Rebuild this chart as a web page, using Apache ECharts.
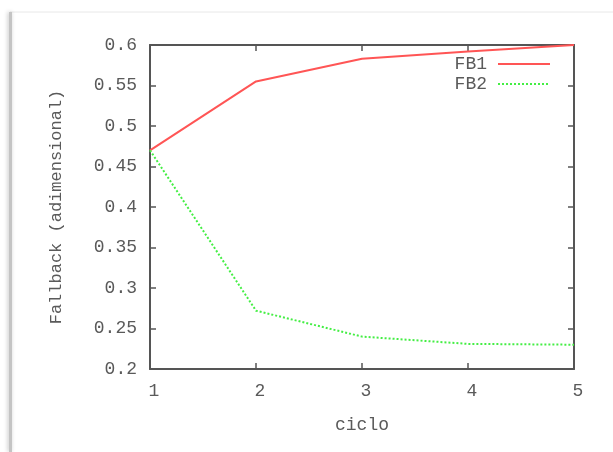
<!DOCTYPE html>
<html>
<head>
<meta charset="utf-8">
<script src="https://cdn.jsdelivr.net/npm/echarts@6/dist/echarts.min.js"></script>
<style>html,body{margin:0;padding:0;background:#fff;}#c{width:613px;height:452px;}</style>
</head>
<body>
<div id="c"></div>
<script>
const ciclo = [1, 2, 3, 4, 5];
const fb1 = [0.47, 0.555, 0.583, 0.592, 0.600];
const fb2 = [0.47, 0.272, 0.240, 0.231, 0.230];
const yTickLabels = ['0.2', '0.25', '0.3', '0.35', '0.4', '0.45', '0.5', '0.55', '0.6'];
const xTickLabels = ['1', '2', '3', '4', '5'];

const FONT = 'Liberation Mono';
const TXT = '#5a5a5a';
const AX = '#555';

const chart = echarts.init(document.getElementById('c'), null, {renderer: 'canvas'});
const grid = {left: 150, top: 45, right: 39, bottom: 83};
const yFmt = v => yTickLabels[Math.round((v - 0.2) / 0.05)] || '';
const xFmt = v => xTickLabels[Math.round(v - 1)] || '';

chart.setOption({
  backgroundColor: '#fff',
  animation: false,
  graphic: [
    {type: 'rect', shape: {x: 10, y: 12, width: 700, height: 500}, style: {fill: '#fff', stroke: '#e8e8e8', lineWidth: 1}, z: -10},
    {type: 'line', shape: {x1: 10.5, y1: 12, x2: 10.5, y2: 452}, style: {stroke: '#c4c4c4', lineWidth: 3, shadowBlur: 4, shadowColor: 'rgba(0,0,0,0.25)', shadowOffsetX: -1}, z: -9}
  ],
  grid: grid,
  legend: {
    orient: 'vertical',
    right: 57,
    top: 50,
    align: 'right',
    itemWidth: 52,
    itemHeight: 14,
    itemGap: 2,
    itemStyle: {opacity: 0},
    textStyle: {fontFamily: FONT, fontSize: 18, color: TXT, padding: [0, 6, 0, 0]},
    data: ['FB1', 'FB2']
  },
  xAxis: [{
    type: 'value', min: 1, max: 5, interval: 1,
    name: 'ciclo', nameLocation: 'middle', nameGap: 47,
    nameTextStyle: {fontFamily: FONT, fontSize: 18, color: TXT},
    axisLine: {show: true, lineStyle: {color: AX, width: 2}},
    axisTick: {show: true, inside: true, length: 6, lineStyle: {color: AX, width: 1.5}},
    axisLabel: {fontFamily: FONT, fontSize: 18, color: TXT, margin: 13, formatter: xFmt, padding: [0, 0, 0, 8]},
    splitLine: {show: false}
  }, {
    type: 'value', min: 1, max: 5, interval: 1, position: 'top',
    axisLine: {show: true, lineStyle: {color: AX, width: 2}},
    axisTick: {show: true, inside: true, length: 6, lineStyle: {color: AX, width: 1.5}},
    axisLabel: {show: false}, splitLine: {show: false}
  }],
  yAxis: [{
    type: 'value', min: 0.2, max: 0.6, interval: 0.05,
    name: 'Fallback (adimensional)', nameLocation: 'middle', nameGap: 85, nameRotate: 90,
    nameTextStyle: {fontFamily: FONT, fontSize: 17, color: TXT},
    axisLine: {show: true, lineStyle: {color: AX, width: 2}},
    axisTick: {show: true, inside: true, length: 6, lineStyle: {color: AX, width: 1.5}},
    axisLabel: {fontFamily: FONT, fontSize: 18, color: TXT, margin: 13, formatter: yFmt},
    splitLine: {show: false}
  }, {
    type: 'value', min: 0.2, max: 0.6, interval: 0.05, position: 'right',
    axisLine: {show: true, lineStyle: {color: AX, width: 2}},
    axisTick: {show: true, inside: true, length: 6, lineStyle: {color: AX, width: 1.5}},
    axisLabel: {show: false}, splitLine: {show: false}
  }],
  series: [{
    name: 'FB1', type: 'line', symbol: 'none',
    data: ciclo.map((c, i) => [c, fb1[i]]),
    lineStyle: {color: '#ff5555', width: 2},
    itemStyle: {color: '#ff5555'}
  }, {
    name: 'FB2', type: 'line', symbol: 'none',
    data: ciclo.map((c, i) => [c, fb2[i]]),
    lineStyle: {color: '#44ee44', width: 2, type: 'dotted'},
    itemStyle: {color: '#44ee44'}
  }]
});
</script>
</body>
</html>
